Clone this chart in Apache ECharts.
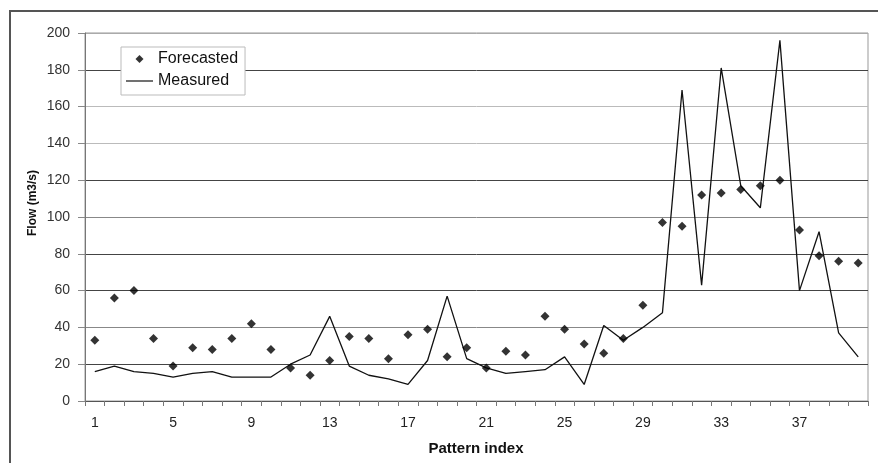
<!DOCTYPE html>
<html>
<head>
<meta charset="utf-8">
<script src="https://cdn.jsdelivr.net/npm/echarts@6/dist/echarts.min.js"></script>
<style>html,body{margin:0;padding:0;background:#fff}#c{width:878px;height:463px}</style>
</head>
<body>
<div id="c"></div>
<script>
const categories = ['1','2','3','4','5','6','7','8','9','10','11','12','13','14','15','16','17','18','19','20','21','22','23','24','25','26','27','28','29','30','31','32','33','34','35','36','37','38','39','40'];
const forecasted = [33,56,60,34,19,29,28,34,42,28,18,14,22,35,34,23,36,39,24,29,18,27,25,46,39,31,26,34,52,97,95,112,113,115,117,120,93,79,76,75];
const measured = [16,19,16,15,13,15,16,13,13,13,20,25,46,19,14,12,9,22,57,23,18,15,16,17,24,9,41,33,40,48,169,63,181,117,105,196,60,92,37,24];
const yTicks = {min:0, max:200, interval:20};
const xAxisTitle = 'Pattern index';
const yAxisTitle = 'Flow (m3/s)';

const chart = echarts.init(document.getElementById('c'));
const font = '"Liberation Sans", Arial, sans-serif';
chart.setOption({
  animation: false,
  textStyle: {fontFamily: font},
  grid: {left: 85, top: 33, right: 10, bottom: 62, show: true, borderColor: '#999', borderWidth: 1},
  legend: {
    orient: 'vertical', left: 121, top: 47,
    padding: [4, 7, 6, 5], itemGap: 6, itemWidth: 27, itemHeight: 8,
    backgroundColor: '#fff', borderColor: '#bbb', borderWidth: 1,
    textStyle: {fontSize: 16, color: '#111', fontFamily: font},
    data: [
      {name: 'Forecasted', icon: 'path://M0,4M13.5,0L17.5,4L13.5,8L9.5,4ZM27,4'},
      {name: 'Measured', icon: 'path://M0,0M0,3.4L27,3.4L27,4.6L0,4.6ZM27,8', itemStyle: {color: '#111'}}
    ]
  },
  xAxis: {
    type: 'category', data: categories, boundaryGap: true,
    axisLine: {lineStyle: {color: '#555', width: 1}},
    axisTick: {show: true, interval: 0, length: 5, alignWithLabel: false, lineStyle: {color: '#777'}},
    axisLabel: {interval: 3, fontSize: 14, color: '#222', margin: 15},
    splitLine: {show: false}
  },
  yAxis: {
    type: 'value', min: yTicks.min, max: yTicks.max, interval: yTicks.interval,
    axisLine: {show: true, lineStyle: {color: '#777', width: 1}},
    axisTick: {show: true, inside: false, length: 7, lineStyle: {color: '#888'}},
    axisLabel: {fontSize: 14, color: '#333', margin: 15},
    splitLine: {show: true, lineStyle: {width: 1, color: ['#888','#444','#888','#444','#444','#888','#444','#bbb','#bbb','#444','#aaa']}}
  },
  graphic: [
    {type: 'rect', silent: true, shape: {x: 10, y: 11, width: 900, height: 500}, style: {fill: 'none', stroke: '#555', lineWidth: 2}},
    {type: 'text', x: 476, y: 449, style: {text: xAxisTitle, font: 'bold 15px ' + font, fill: '#111', textAlign: 'center', textVerticalAlign: 'middle'}},
    {type: 'text', x: 33, y: 203, rotation: Math.PI / 2, style: {text: yAxisTitle, font: 'bold 12px ' + font, fill: '#111', textAlign: 'center', textVerticalAlign: 'middle'}}
  ],
  series: [
    {name: 'Measured', type: 'line', data: measured, symbol: 'none', lineStyle: {color: '#111', width: 1.3}, itemStyle: {color: '#111'}, z: 2},
    {name: 'Forecasted', type: 'scatter', data: forecasted, symbol: 'diamond', symbolSize: 9, itemStyle: {color: '#000'}, z: 3}
  ]
});
</script>
</body>
</html>
